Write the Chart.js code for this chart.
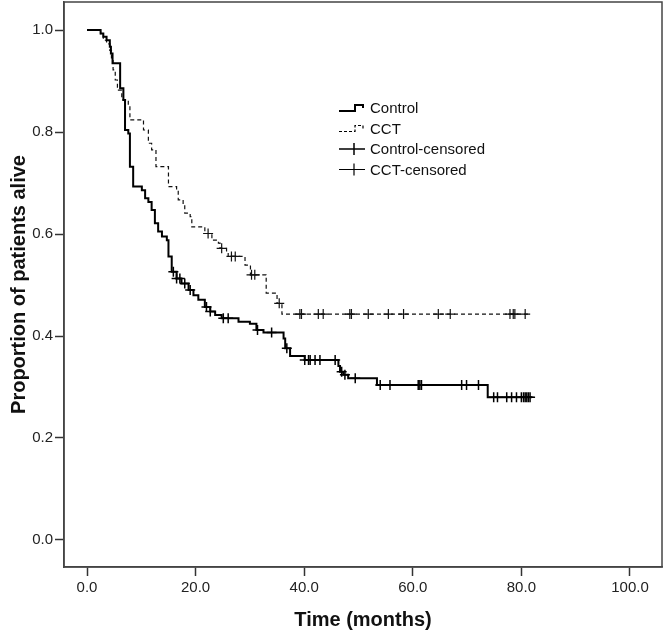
<!DOCTYPE html>
<html><head><meta charset="utf-8">
<script src="https://cdn.jsdelivr.net/npm/chart.js@4.4.0/dist/chart.umd.min.js"></script>
<style>html,body{margin:0;padding:0;background:#fff;}#wrap{width:666px;height:633px;}</style>
</head><body><div id="wrap"><canvas id="c" width="666" height="633"></canvas></div>
<script>
const xTicks = [0, 20, 40, 60, 80, 100];
const yTicks = [0, 0.2, 0.4, 0.6, 0.8, 1.0];
const legendLabels = ['Control', 'CCT', 'Control-censored', 'CCT-censored'];
const xTitle = 'Time (months)';
const yTitle = 'Proportion of patients alive';

const controlTimes = [0, 2.5, 3.0, 3.6, 4.2, 4.4, 4.7, 6.1, 6.7, 7.0, 7.6, 7.9, 8.5, 10.1, 10.7, 11.3, 11.9, 12.5, 13.1, 13.8, 14.7, 15.0, 15.6, 16.5, 17.4, 18.7, 19.6, 20.5, 21.7, 22.7, 23.6, 24.8, 27.9, 30.0, 31.2, 32.5, 36.2, 36.5, 37.4, 40.1, 46.3, 46.6, 47.2, 48.1, 53.4, 73.8, 81.9];
const controlSurv  = [1.0, 0.993, 0.987, 0.980, 0.967, 0.954, 0.935, 0.886, 0.863, 0.804, 0.797, 0.732, 0.693, 0.686, 0.670, 0.663, 0.647, 0.621, 0.605, 0.595, 0.588, 0.556, 0.526, 0.513, 0.503, 0.490, 0.480, 0.471, 0.457, 0.448, 0.441, 0.435, 0.428, 0.424, 0.412, 0.407, 0.395, 0.376, 0.361, 0.353, 0.341, 0.330, 0.324, 0.317, 0.304, 0.280, 0.280];

const cctTimes = [0, 2.5, 3.0, 3.6, 4.2, 4.5, 4.8, 5.2, 5.6, 6.4, 7.6, 7.9, 10.4, 11.3, 11.9, 12.7, 15.0, 16.5, 16.8, 17.7, 18.0, 19.0, 19.3, 21.7, 23.0, 24.2, 24.5, 25.7, 26.0, 29.1, 30.1, 33.0, 35.0, 35.9, 81.2];
const cctSurv  = [1.0, 0.993, 0.980, 0.973, 0.960, 0.940, 0.922, 0.902, 0.882, 0.863, 0.853, 0.824, 0.804, 0.778, 0.765, 0.732, 0.693, 0.686, 0.667, 0.657, 0.641, 0.634, 0.614, 0.601, 0.588, 0.582, 0.572, 0.565, 0.556, 0.539, 0.520, 0.484, 0.464, 0.443, 0.443];

const controlCensorTimes = [15.9, 16.5, 17.1, 18.0, 19.0, 22.0, 22.7, 25.1, 26.0, 31.4, 34.0, 36.8, 40.1, 40.8, 41.1, 42.0, 42.9, 45.7, 46.9, 47.5, 49.4, 54.0, 55.8, 61.0, 61.3, 61.6, 69.0, 69.9, 72.1, 74.9, 75.6, 77.3, 78.2, 79.1, 80.0, 80.4, 80.7, 81.0, 81.3, 81.6];
const cctCensorTimes = [22.3, 24.8, 26.6, 27.3, 30.3, 30.9, 35.4, 39.2, 39.5, 42.6, 43.5, 48.4, 48.7, 51.8, 55.5, 58.3, 64.7, 66.9, 77.9, 78.5, 78.8, 80.7];

function survAt(times, surv, t) {
  let s = surv[0];
  for (let i = 0; i < times.length; i++) { if (times[i] <= t) s = surv[i]; }
  return s;
}
const toPts = (ts, ss) => ts.map((t, i) => ({x: t, y: ss[i]}));
const censorPts = (cts, ts, ss) => cts.map(t => ({x: t, y: survAt(ts, ss, t)}));

const FONT = "'Liberation Sans', Arial, sans-serif";

const framePlugin = {
  id: 'frameLegend',
  afterDraw(chart) {
    const {ctx, chartArea: a} = chart;
    ctx.save();
    ctx.strokeStyle = '#444';
    ctx.lineWidth = 1.5;
    ctx.strokeRect(a.left, a.top, a.right - a.left, a.bottom - a.top);
    const lx = a.left + 275, ly = a.top + 106, rh = 20.5;
    ctx.strokeStyle = '#000';
    ctx.lineWidth = 2;
    ctx.beginPath();
    ctx.moveTo(lx, ly + 3); ctx.lineTo(lx + 16, ly + 3); ctx.lineTo(lx + 16, ly - 3);
    ctx.lineTo(lx + 24, ly - 3); ctx.lineTo(lx + 24, ly);
    ctx.stroke();
    ctx.lineWidth = 1.2;
    ctx.setLineDash([3, 2]);
    ctx.beginPath();
    const y2 = ly + rh;
    ctx.moveTo(lx, y2 + 3); ctx.lineTo(lx + 16, y2 + 3); ctx.lineTo(lx + 16, y2 - 3);
    ctx.lineTo(lx + 24, y2 - 3); ctx.lineTo(lx + 24, y2);
    ctx.stroke();
    ctx.setLineDash([]);
    for (let k = 2; k < 4; k++) {
      const yy = ly + rh * k;
      ctx.lineWidth = k === 2 ? 1.5 : 1.2;
      ctx.beginPath();
      ctx.moveTo(lx, yy); ctx.lineTo(lx + 26, yy);
      ctx.moveTo(lx + 15, yy - 6); ctx.lineTo(lx + 15, yy + 6);
      ctx.stroke();
    }
    ctx.fillStyle = '#111';
    ctx.font = '15px ' + FONT;
    ctx.textBaseline = 'middle';
    ctx.textAlign = 'left';
    legendLabels.forEach((lab, k) => ctx.fillText(lab, lx + 31, ly + rh * k + 1));
    ctx.restore();
  }
};

function zeroPad(s) {
  s.paddingTop = 0; s.paddingBottom = 0; s.paddingLeft = 0; s.paddingRight = 0;
}

new Chart(document.getElementById('c'), {
  type: 'line',
  data: {
    datasets: [
      {label: 'Control', data: toPts(controlTimes, controlSurv), stepped: 'before', borderColor: '#000', borderWidth: 2, pointRadius: 0, fill: false},
      {label: 'CCT', data: toPts(cctTimes, cctSurv), stepped: 'before', borderColor: '#111', borderWidth: 1.2, borderDash: [4, 3], pointRadius: 0, fill: false},
      {label: 'Control-censored', data: censorPts(controlCensorTimes, controlTimes, controlSurv), showLine: false, pointStyle: 'cross', pointRadius: 5, pointBorderColor: '#000', pointBorderWidth: 1.5, borderColor: '#000'},
      {label: 'CCT-censored', data: censorPts(cctCensorTimes, cctTimes, cctSurv), showLine: false, pointStyle: 'cross', pointRadius: 5, pointBorderColor: '#111', pointBorderWidth: 1.2, borderColor: '#111'}
    ]
  },
  options: {
    responsive: false,
    animation: false,
    events: [],
    layout: {autoPadding: false, padding: {top: 2, right: 4, left: 0, bottom: 0}},
    plugins: {legend: {display: false}, tooltip: {enabled: false}},
    scales: {
      x: {
        type: 'linear', min: -4.24, max: 105.9,
        afterBuildTicks: s => { s.ticks = xTicks.map(v => ({value: v})); },
        afterFit: s => { s.height = 66; zeroPad(s); },
        ticks: {callback: v => Number(v).toFixed(1), color: '#222', font: {size: 15, family: FONT}, padding: 3, maxRotation: 0, autoSkip: false},
        grid: {display: true, drawOnChartArea: false, drawTicks: true, tickLength: 9, tickColor: '#333', tickWidth: 1.5},
        border: {display: true, color: '#444', width: 1.5},
        title: {display: true, text: xTitle, color: '#111', font: {size: 20, weight: 'bold', family: FONT}, padding: {top: 0, bottom: 1}}
      },
      y: {
        type: 'linear', min: -0.053, max: 1.055,
        afterBuildTicks: s => { s.ticks = yTicks.map(v => ({value: v})); },
        afterFit: s => { s.width = 64; zeroPad(s); },
        ticks: {callback: v => Number(v).toFixed(1), color: '#222', font: {size: 15, family: FONT}, padding: 2, autoSkip: false},
        grid: {display: true, drawOnChartArea: false, drawTicks: true, tickLength: 9, tickColor: '#333', tickWidth: 1.5},
        border: {display: true, color: '#444', width: 1.5},
        title: {display: true, text: yTitle, color: '#111', font: {size: 20, weight: 'bold', family: FONT}, padding: {top: 7, bottom: 0}}
      }
    }
  },
  plugins: [framePlugin]
});
</script>
</body></html>
